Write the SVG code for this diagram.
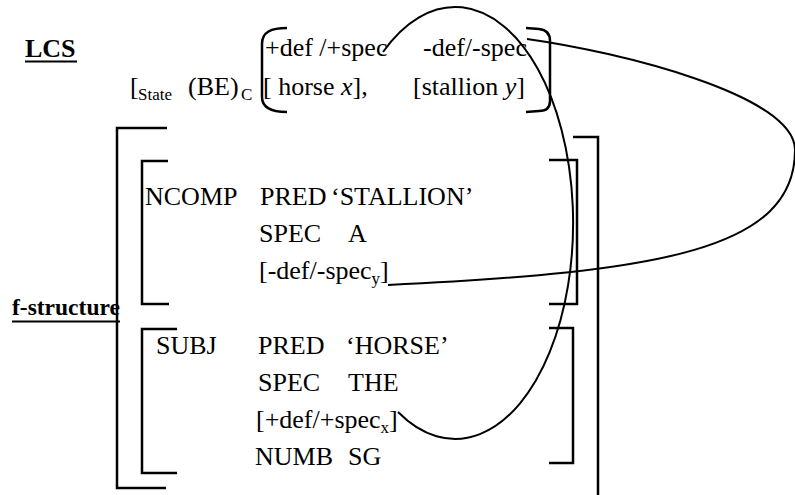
<svg xmlns="http://www.w3.org/2000/svg" width="795" height="495" viewBox="0 0 795 495">
<style>
text{font-family:"Liberation Serif","Times New Roman",serif;font-size:26px;fill:#000}
.b{font-weight:bold}
.s{font-size:17px}
.i{font-style:italic}
.br{fill:none;stroke:#000;stroke-width:2.5}
.ln{fill:none;stroke:#000;stroke-width:2}
.ul{stroke:#000;stroke-width:2.2}
</style>
<rect width="795" height="495" fill="#fff"/>
<g id="lcs-label">
<text class="b" x="25" y="57">LCS</text>
<line class="ul" x1="25" y1="61.5" x2="77" y2="61.5"/>
</g>
<g id="lcs">
<text x="130" y="95">[</text>
<text class="s" x="138" y="100">State</text>
<text x="188" y="95">(BE)</text>
<text class="s" x="241" y="100">C</text>
<path class="br" d="M287 28 C271 28 262 32 262 44 L262 97 C262 108 271 112 287 112"/>
<path class="br" d="M526 28 L539 29 Q550 30 550 41 L550 101 Q550 111 539 111 L526 112"/>
<g id="lcs-horse">
<text x="265" y="56">+def /+spec</text>
<text x="263" y="95">[ horse <tspan class="i">x</tspan>],</text>
</g>
<g id="lcs-stallion">
<text x="423" y="56">-def/-spec</text>
<text x="413" y="95">[stallion <tspan class="i">y</tspan>]</text>
</g>
</g>
<g id="f-structure-label">
<text class="b" x="12" y="315" style="font-size:23.5px">f-structure</text>
<line class="ul" x1="12" y1="321.5" x2="120" y2="321.5"/>
</g>
<g id="f-structure">
<path class="br" d="M167 128 L117 128 L117 488 L166 488"/>
<path class="br" d="M573 137 L598 137 L598 495"/>
<g id="ncomp">
<path class="br" d="M168 161 L142 161 L142 304 L169 304"/>
<path class="br" d="M549 160 L577 160 L577 304 L549 304"/>
<text x="145" y="205">NCOMP</text>
<text x="260" y="205">PRED</text>
<text x="331" y="205">‘STALLION’</text>
<text x="259" y="242">SPEC</text>
<text x="348" y="242">A</text>
<text x="259" y="279">[-def/-spec<tspan class="s" dy="5">y</tspan><tspan dy="-5">]</tspan></text>
</g>
<g id="subj">
<path class="br" d="M177 329 L142 329 L142 473 L177 473"/>
<path class="br" d="M549 328 L573 328 L573 463 L549 463"/>
<text x="156" y="354">SUBJ</text>
<text x="258" y="354">PRED</text>
<text x="346" y="354">‘HORSE’</text>
<text x="258" y="391">SPEC</text>
<text x="348" y="391">THE</text>
<text x="256" y="428">[+def/+spec<tspan class="s" dy="5">x</tspan><tspan dy="-5">]</tspan></text>
<text x="255" y="465">NUMB</text>
<text x="348" y="465">SG</text>
</g>
</g>
<g id="connectors">
<path class="ln" d="M383 52 A118 216 0 1 1 398 412"/>
<path class="ln" d="M527 39 C620 52 795 95 795 150 C795 250 660 272 388 285"/>
</g>
</svg>
